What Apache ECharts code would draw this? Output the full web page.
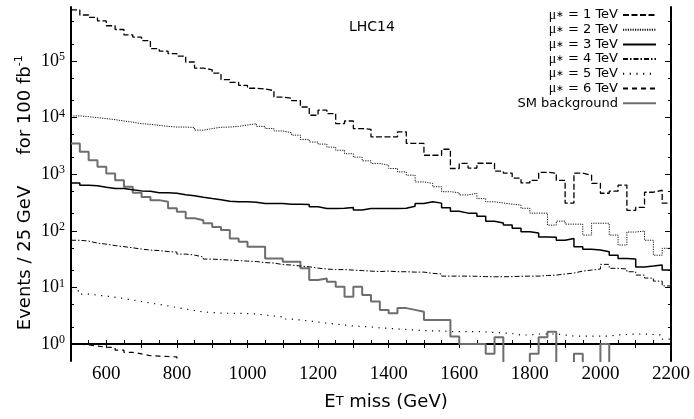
<!DOCTYPE html>
<html>
<head>
<meta charset="utf-8">
<script src="https://cdn.jsdelivr.net/npm/echarts@6/dist/echarts.min.js"></script>
<style>
  html, body, #main { width: 694px; height: 419px; margin: 0; background: #fff; }
</style>
</head>
<body>
<div id="main"></div>
<script>
// 25 GeV bins from 500 GeV, events per bin for 100 fb^-1
var binStart = 500, binWidth = 25;

var mu1 = [8.0e5, 6.5e5, 5.9e5, 5.1e5, 4.2e5, 3.6e5, 2.9e5, 2.65e5, 2.3e5, 1.65e5,
  1.5e5, 1.35e5, 1.22e5, 9.6e4, 7.5e4, 7.0e4, 6.1e4, 4.7e4, 4.2e4, 3.7e4,
  3.3e4, 3.2e4, 3.0e4, 2.3e4, 2.2e4, 2.0e4, 1.54e4, 1.1e4, 1.35e4, 1.18e4,
  7800, 8700, 6400, 6200, 4550, 4550, 4550, 5600, 3500, 3500,
  2160, 2160, 2760, 1260, 1550, 1280, 1560, 1560, 1130, 1040,
  850, 700, 780, 1080, 1040, 780, 308, 1040, 960, 690,
  460, 500, 640, 230, 260, 480, 520, 308];

var mu2 = [10700, 10400, 10000, 9600, 9200, 8700, 8300, 7800, 7600, 7300,
  7000, 6800, 6800, 6700, 6000, 6400, 6750, 6800, 7000, 7400,
  7800, 7000, 6400, 5800, 5400, 4900, 4100, 3700, 3400, 3000,
  2650, 2300, 2000, 1720, 1550, 1440, 1260, 1100, 960, 730,
  685, 600, 490, 470, 430, 460, 370, 325, 310, 295,
  285, 250, 205, 205, 126, 148, 131, 131, 84, 136,
  136, 84, 56, 95, 99, 68, 37, 49];

var mu3 = [700, 640, 627, 590, 560, 560, 532, 507, 500, 468,
  468, 462, 435, 417, 393, 372, 355, 334, 325, 325,
  320, 304, 304, 304, 295, 295, 290, 265, 248, 248,
  251, 258, 232, 248, 248, 248, 248, 251, 272, 304,
  327, 308, 256, 222, 205, 205, 181, 148, 137, 126,
  111, 96, 91, 78, 77, 68, 73, 52, 47, 45.6,
  42.5, 37, 32.5, 31.6, 23, 23.8, 24.8, 20.2];

var mu4 = [68, 65.7, 60.6, 58, 54.7, 52.5, 50, 47.5, 45.6, 44.7,
  42.9, 42, 38.7, 37.2, 34.3, 31.6, 31, 30.4, 29.7, 29.1,
  28.6, 27.4, 26.9, 25.3, 24.8, 23.8, 23.1, 21.9, 21.1, 20.6,
  20.6, 20.2, 19.8, 19.4, 19.0, 19.4, 18.9, 18.9, 18.6, 18.6,
  17.7, 17.2, 15.8, 15.8, 15.8, 15.7, 15.5, 15.4, 15.4, 15.5,
  15.7, 15.8, 15.8, 16.2, 16.5, 17.2, 17.9, 19.4, 20.2, 21.1,
  25.5, 21.7, 21.1, 18.9, 16.5, 14.6, 12.9, 10.6];

var mu5 = [8.7, 7.6, 7.3, 7.0, 6.7, 6.35, 6.0, 5.6, 5.3, 5.0,
  4.7, 4.4, 4.15, 3.9, 3.67, 3.6, 3.52, 3.48, 3.48, 3.45,
  3.38, 3.25, 3.12, 3.0, 2.76, 2.65, 2.55, 2.44, 2.32, 2.25,
  2.16, 2.08, 2.04, 2.0, 1.92, 1.89, 1.84, 1.80, 1.77, 1.72,
  1.70, 1.70, 1.66, 1.65, 1.65, 1.65, 1.63, 1.60, 1.56, 1.53,
  1.44, 1.44, 1.50, 1.50, 1.50, 1.44, 1.38, 1.38, 1.38, 1.38,
  1.38, 1.44, 1.47, 1.50, 1.50, 1.47, 1.44, 1.22];

// falls below the plotted range after ~800 GeV
var mu6 = [1.0, 0.96, 0.92, 0.875, 0.87, 0.78, 0.71, 0.67, 0.62, 0.61, 0.60, 0.59, 0.45];

var smBackground = [3500, 2500, 1770, 1350, 1030, 783, 597, 471, 397, 348,
  325, 251, 216, 167, 154, 136, 117, 103, 73, 64,
  52, 52, 32.5, 32.5, 28.3, 28.3, 21.7, 13.5, 14.4, 12.6,
  10.3, 6.8, 10.3, 7.3, 5.6, 4.0, 3.5, 4.3, 4.0, 3.7,
  2.65, 2.65, 2.65, 1.35, 1.0, 1.0, 1.0, 0.67, 1.31, 0,
  0, 0, 0.67, 1.31, 1.65, 0, 0, 0.67, 0, 0,
  1.0, 0, 0, 0, 0, 0, 0, 0];

var seriesNames = ['μ∗ = 1 TeV', 'μ∗ = 2 TeV', 'μ∗ = 3 TeV', 'μ∗ = 4 TeV',
  'μ∗ = 5 TeV', 'μ∗ = 6 TeV', 'SM background'];

var xMin = 500, xMax = 2200;
var yMin = 0.5, yMax = 9e5;
var decades = [0, 1, 2, 3, 4, 5];

var majorTicks = decades.slice();
var minorTicks = [];
decades.forEach(function (d) {
  minorTicks.push(Math.log10(2) + d, Math.log10(5) + d);
});

function toPoints(values) {
  var pts = values.map(function (v, i) {
    return [binStart + i * binWidth, v > 0 ? Math.log10(v) : -2];
  });
  pts.push([binStart + values.length * binWidth, pts[pts.length - 1][1]]);
  return pts;
}

var styles = [
  { color: '#000', width: 1.3, type: [6, 2.5] },
  { color: '#111', width: 1, type: [1.2, 1.2] },
  { color: '#000', width: 1.5, type: 'solid' },
  { color: '#000', width: 1, type: [5, 2, 1.5, 2] },
  { color: '#000', width: 1.2, type: [1.2, 5.5] },
  { color: '#000', width: 1.2, type: [5, 4] },
  { color: '#6e6e6e', width: 2, type: 'solid' }
];

var allData = [mu1, mu2, mu3, mu4, mu5, mu6, smBackground];

var series = allData.map(function (vals, k) {
  return {
    name: seriesNames[k],
    type: 'line',
    step: 'end',
    symbol: 'none',
    clip: true,
    z: k === 6 ? 1 : 2,
    lineStyle: styles[k],
    itemStyle: { color: styles[k].color },
    data: toPoints(vals)
  };
});

var serif = 'Liberation Serif';
var sans = 'DejaVu Sans';

var chart = echarts.init(document.getElementById('main'));
chart.setOption({
  animation: false,
  backgroundColor: '#fff',
  title: {
    text: 'LHC14', left: 349, top: 20, padding: 0,
    textStyle: { fontFamily: sans, fontSize: 14, fontWeight: 'normal', color: '#000' }
  },
  legend: {
    orient: 'vertical', right: 37, top: 8, align: 'right', padding: 0,
    itemWidth: 33, itemHeight: 12, itemGap: 0.7, selectedMode: false,
    itemStyle: { opacity: 0 },
    data: seriesNames,
    formatter: function (name) {
      return name.replace('μ∗', '{m|μ}{st|∗}');
    },
    textStyle: {
      fontFamily: sans, fontSize: 13, color: '#000', lineHeight: 14,
      rich: {
        m: { fontFamily: serif, fontSize: 14, color: '#000', lineHeight: 14 },
        st: { fontFamily: sans, fontSize: 9, color: '#000', lineHeight: 14 }
      }
    }
  },
  grid: { left: 71, right: 23, top: 7, bottom: 58 },
  xAxis: [{
    type: 'value', min: xMin, max: xMax, interval: 50, position: 'bottom',
    axisLine: { lineStyle: { color: '#000', width: 2 } },
    axisTick: { inside: true, length: 4, lineStyle: { color: '#000' } },
    splitLine: { show: false },
    axisLabel: {
      margin: 4, color: '#000', fontFamily: serif, fontSize: 19,
      formatter: function (v) { return v % 200 === 0 ? String(v) : ''; }
    }
  }, {
    type: 'value', min: xMin, max: xMax, interval: 100, position: 'top',
    axisLine: { lineStyle: { color: '#000', width: 1.5 } },
    axisTick: { inside: true, length: 4, lineStyle: { color: '#000' } },
    splitLine: { show: false },
    axisLabel: { show: false }
  }],
  yAxis: [{
    type: 'value', min: Math.log10(yMin), max: Math.log10(yMax), position: 'left',
    axisLine: { show: true, lineStyle: { color: '#000', width: 2 } },
    axisTick: { show: true, inside: true, length: 6, customValues: majorTicks, lineStyle: { color: '#000' } },
    splitLine: { show: false },
    axisLabel: {
      customValues: decades, margin: 6, color: '#000',
      formatter: function (v) { return '{b|10}{s|' + Math.round(v) + '}'; },
      rich: {
        b: { fontFamily: serif, fontSize: 18, color: '#000', lineHeight: 20 },
        s: { fontFamily: serif, fontSize: 12, color: '#000', verticalAlign: 'top', lineHeight: 12 }
      }
    }
  }, {
    type: 'value', min: Math.log10(yMin), max: Math.log10(yMax), position: 'left',
    axisLine: { show: false },
    axisTick: { show: true, inside: true, length: 3, customValues: minorTicks, lineStyle: { color: '#000' } },
    splitLine: { show: false },
    axisLabel: { show: false }
  }, {
    type: 'value', min: Math.log10(yMin), max: Math.log10(yMax), position: 'right',
    axisLine: { show: true, lineStyle: { color: '#000', width: 2 } },
    axisTick: { show: true, inside: true, length: 6, customValues: majorTicks, lineStyle: { color: '#000' } },
    splitLine: { show: false },
    axisLabel: { show: false }
  }, {
    type: 'value', min: Math.log10(yMin), max: Math.log10(yMax), position: 'right',
    axisLine: { show: false },
    axisTick: { show: true, inside: true, length: 3, customValues: minorTicks, lineStyle: { color: '#000' } },
    splitLine: { show: false },
    axisLabel: { show: false }
  }],
  graphic: [{
    type: 'text', x: 25, y: 258, rotation: Math.PI / 2,
    style: {
      text: 'Events / 25 GeV', fontFamily: sans, fontSize: 18, fill: '#000',
      align: 'center', verticalAlign: 'middle'
    }
  }, {
    type: 'text', x: 25, y: 105, rotation: Math.PI / 2,
    style: {
      text: '{a|for 100 fb}{s|-1}', fill: '#000', align: 'center', verticalAlign: 'middle',
      rich: {
        a: { fontFamily: sans, fontSize: 18, fill: '#000', lineHeight: 22 },
        s: { fontFamily: sans, fontSize: 11, fill: '#000', verticalAlign: 'top', lineHeight: 11 }
      }
    }
  }, {
    type: 'text', x: 386, y: 402,
    style: {
      text: '{a|E}{t|T}{a| miss (GeV)}', fill: '#000', align: 'center', verticalAlign: 'middle',
      rich: {
        a: { fontFamily: sans, fontSize: 18, fill: '#000', lineHeight: 22 },
        t: { fontFamily: sans, fontSize: 13, fill: '#000', lineHeight: 22 }
      }
    }
  }],
  series: series
});
</script>
</body>
</html>
